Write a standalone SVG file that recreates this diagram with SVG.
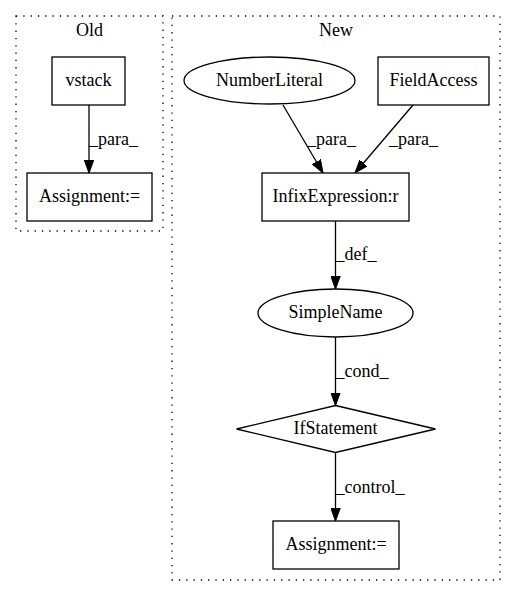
<svg xmlns="http://www.w3.org/2000/svg" width="516" height="596" viewBox="0 0 516 596">
<defs>
<marker id="ah" markerWidth="13" markerHeight="10" refX="13" refY="4.75" orient="auto" markerUnits="userSpaceOnUse" viewBox="0 0 13 9.5">
<polygon points="0,0 13,4.75 0,9.5" fill="#000" stroke="#000" stroke-width="1"/>
</marker>
</defs>
<style>
text{font-family:"Liberation Serif","Times New Roman",serif;font-size:18px;fill:#000;text-anchor:middle}
.cl{fill:none;stroke:#000;stroke-dasharray:1.3,6;stroke-width:1.3}
.n{fill:#fff;stroke:#000;stroke-width:1.3}
.e{fill:none;stroke:#000;stroke-width:1.3;marker-end:url(#ah)}
text.l{text-anchor:start}
</style>
<rect width="516" height="596" fill="#fff"/>
<g id="cluster_old">
<rect class="cl" x="16" y="16" width="147" height="215"/>
<text x="89.5" y="36">Old</text>
</g>
<g id="cluster_new">
<rect class="cl" x="172" y="16" width="328" height="564"/>
<text x="336" y="36">New</text>
</g>
<g id="edges">
<line class="e" x1="89" y1="105" x2="89" y2="173"/>
<text class="l" x="89" y="145">_para_</text>
<line class="e" x1="283" y1="105" x2="323" y2="173"/>
<text class="l" x="307" y="145">_para_</text>
<line class="e" x1="413" y1="105" x2="355" y2="173"/>
<text class="l" x="389" y="145">_para_</text>
<line class="e" x1="335.5" y1="221" x2="335.5" y2="289"/>
<text class="l" x="335.5" y="260">_def_</text>
<line class="e" x1="335.5" y1="337" x2="335.5" y2="405.5"/>
<text class="l" x="335.5" y="377">_cond_</text>
<line class="e" x1="335.5" y1="453" x2="335.5" y2="521"/>
<text class="l" x="335.5" y="493">_control_</text>
</g>
<g id="vstack">
<rect class="n" x="52" y="57" width="73" height="48"/>
<text x="88.5" y="85.5">vstack</text>
</g>
<g id="old_assignment">
<rect class="n" x="27" y="173" width="125" height="48"/>
<text x="89.5" y="202">Assignment:=</text>
</g>
<g id="number_literal">
<ellipse class="n" cx="269.5" cy="80.5" rx="85.5" ry="23.5"/>
<text x="269.5" y="86">NumberLiteral</text>
</g>
<g id="field_access">
<rect class="n" x="378" y="57" width="111" height="48"/>
<text x="433.5" y="86">FieldAccess</text>
</g>
<g id="infix_expression">
<rect class="n" x="262" y="173" width="147" height="48"/>
<text x="335.5" y="202">InfixExpression:r</text>
</g>
<g id="simple_name">
<ellipse class="n" cx="335.5" cy="313" rx="77.5" ry="24"/>
<text x="335.5" y="318">SimpleName</text>
</g>
<g id="if_statement">
<polygon class="n" points="335.5,405.5 435.5,429 335.5,452.5 236.5,429"/>
<text x="335.5" y="434">IfStatement</text>
</g>
<g id="new_assignment">
<rect class="n" x="273" y="521" width="126" height="48"/>
<text x="336" y="550">Assignment:=</text>
</g>
</svg>
